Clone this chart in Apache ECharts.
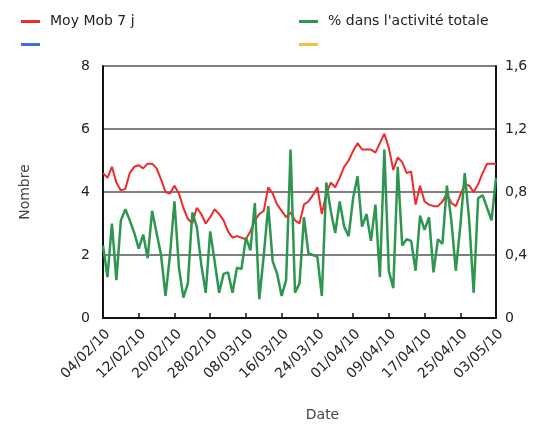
<!DOCTYPE html>
<html lang="fr">
<head>
<meta charset="UTF-8">
<title>Moy Mob 7 j</title>
<script src="https://cdn.jsdelivr.net/npm/echarts@6/dist/echarts.min.js"></script>
<style>
  html, body { margin: 0; padding: 0; background: #fff; }
  #chart { width: 539px; height: 427px; }
</style>
</head>
<body>
<div id="chart"></div>
<script>
// dates (jj/mm/aa), one per day
var dates = [
  '04/02/10','05/02/10','06/02/10','07/02/10','08/02/10','09/02/10','10/02/10','11/02/10','12/02/10','13/02/10',
  '14/02/10','15/02/10','16/02/10','17/02/10','18/02/10','19/02/10','20/02/10','21/02/10','22/02/10','23/02/10',
  '24/02/10','25/02/10','26/02/10','27/02/10','28/02/10',
  '01/03/10','02/03/10','03/03/10','04/03/10','05/03/10','06/03/10','07/03/10','08/03/10','09/03/10','10/03/10',
  '11/03/10','12/03/10','13/03/10','14/03/10','15/03/10','16/03/10','17/03/10','18/03/10','19/03/10','20/03/10',
  '21/03/10','22/03/10','23/03/10','24/03/10','25/03/10','26/03/10','27/03/10','28/03/10','29/03/10','30/03/10','31/03/10',
  '01/04/10','02/04/10','03/04/10','04/04/10','05/04/10','06/04/10','07/04/10','08/04/10','09/04/10','10/04/10',
  '11/04/10','12/04/10','13/04/10','14/04/10','15/04/10','16/04/10','17/04/10','18/04/10','19/04/10','20/04/10',
  '21/04/10','22/04/10','23/04/10','24/04/10','25/04/10','26/04/10','27/04/10','28/04/10','29/04/10','30/04/10',
  '01/05/10','02/05/10','03/05/10'
];

// Moy Mob 7 j (axe de gauche)
var moyMob = [
  4.6,4.45,4.8,4.3,4.05,4.1,4.6,4.8,4.85,4.75,
  4.9,4.9,4.75,4.4,4.0,3.95,4.2,3.95,3.5,3.15,
  3.0,3.5,3.3,3.0,3.2,3.45,3.3,3.1,2.75,2.55,
  2.6,2.55,2.5,2.75,3.1,3.3,3.4,4.15,3.95,3.6,
  3.4,3.2,3.35,3.1,3.0,3.6,3.7,3.9,4.15,3.3,
  3.95,4.3,4.15,4.45,4.8,5.0,5.3,5.55,5.35,5.35,
  5.35,5.25,5.55,5.85,5.4,4.7,5.1,4.95,4.6,4.65,
  3.6,4.2,3.7,3.6,3.55,3.55,3.7,3.95,3.65,3.55,
  3.9,4.25,4.2,4.0,4.25,4.6,4.9,4.9,4.9
];

// % dans l'activite totale (axe de droite)
var pctActivite = [
  0.46,0.26,0.6,0.24,0.62,0.69,0.62,0.54,0.44,0.53,
  0.38,0.68,0.54,0.4,0.14,0.4,0.74,0.32,0.13,0.22,
  0.67,0.58,0.34,0.16,0.55,0.36,0.16,0.28,0.29,0.16,
  0.32,0.31,0.51,0.43,0.73,0.12,0.4,0.71,0.36,0.28,
  0.14,0.24,1.07,0.16,0.22,0.64,0.41,0.4,0.39,0.14,
  0.86,0.68,0.54,0.74,0.58,0.52,0.76,0.9,0.58,0.66,
  0.49,0.72,0.26,1.07,0.3,0.19,0.96,0.46,0.5,0.49,
  0.3,0.65,0.56,0.64,0.29,0.5,0.47,0.84,0.62,0.3,
  0.58,0.92,0.62,0.16,0.76,0.78,0.7,0.62,0.89
];

var leftTicks = [0, 2, 4, 6, 8];
var rightTicks = ['0', '0,4', '0,8', '1,2', '1,6'];

var legendLabels = { 'Moy Mob 7 j': 'Moy Mob 7 j', '% dans l\'activité totale': '% dans l\'activité totale', 'bleu': '', 'jaune': '' };

var txt = '#222';
var font = 'DejaVu Sans, Liberation Sans, sans-serif';

var option = {
  animation: false,
  textStyle: { fontFamily: font },
  legend: [
    {
      left: 16, top: 8, orient: 'vertical', icon: 'rect',
      itemWidth: 19, itemHeight: 3, itemGap: 13,
      data: ['Moy Mob 7 j', 'bleu'],
      formatter: function (n) { return legendLabels[n]; },
      textStyle: { fontSize: 14, color: txt, padding: [0, 0, 0, 5], lineHeight: 17 }
    },
    {
      left: 294, top: 8, orient: 'vertical', icon: 'rect',
      itemWidth: 19, itemHeight: 3, itemGap: 13,
      data: ['% dans l\'activité totale', 'jaune'],
      formatter: function (n) { return legendLabels[n]; },
      textStyle: { fontSize: 14, color: txt, padding: [0, 0, 0, 5], lineHeight: 17 }
    }
  ],
  grid: { left: 103, right: 43, top: 66, bottom: 109, show: false },
  xAxis: {
    type: 'category',
    data: dates,
    boundaryGap: false,
    name: 'Date',
    nameLocation: 'middle',
    nameGap: 90,
    nameTextStyle: { fontSize: 14, color: '#444', padding: [0, 0, 0, 46] },
    axisLine: { lineStyle: { color: '#111', width: 2 } },
    axisTick: { inside: true, length: 5, interval: 7, lineStyle: { color: '#111', width: 1.5 } },
    axisLabel: { interval: 7, rotate: 45, fontSize: 14, color: txt, margin: 9, verticalAlign: 'top' },
    splitLine: { show: false }
  },
  yAxis: [
    {
      type: 'value', min: 0, max: 8, interval: 2,
      name: 'Nombre', nameLocation: 'middle', nameGap: 71,
      nameTextStyle: { fontSize: 14, color: '#444' },
      axisLine: { show: true, lineStyle: { color: '#111', width: 2 } },
      axisTick: { show: false },
      axisLabel: {
        fontSize: 14, color: txt, margin: 13,
        formatter: function (v) { return leftTicks.indexOf(v) >= 0 ? String(v) : ''; }
      },
      splitLine: { show: true, lineStyle: { color: '#555', width: 1.5 } }
    },
    {
      type: 'value', min: 0, max: 1.6, interval: 0.4,
      axisLine: { show: true, lineStyle: { color: '#111', width: 2 } },
      axisTick: { show: false },
      axisLabel: {
        fontSize: 14, color: txt, margin: 9,
        formatter: function (v) { return rightTicks[Math.round(v / 0.4)]; }
      },
      splitLine: { show: false }
    }
  ],
  series: [
    {
      name: 'Moy Mob 7 j', type: 'line', yAxisIndex: 0, data: moyMob,
      symbol: 'none', color: '#ee2a2a', lineStyle: { width: 2 }, z: 3
    },
    {
      name: 'bleu', type: 'line', yAxisIndex: 0, data: [],
      symbol: 'none', color: '#3b6fe0'
    },
    {
      name: '% dans l\'activité totale', type: 'line', yAxisIndex: 1, data: pctActivite,
      symbol: 'none', color: '#2e9650', lineStyle: { width: 2.5 }, z: 4
    },
    {
      name: 'jaune', type: 'line', yAxisIndex: 1, data: [],
      symbol: 'none', color: '#f2c23a'
    }
  ]
};

var myChart = echarts.init(document.getElementById('chart'));
myChart.setOption(option);
</script>
</body>
</html>
